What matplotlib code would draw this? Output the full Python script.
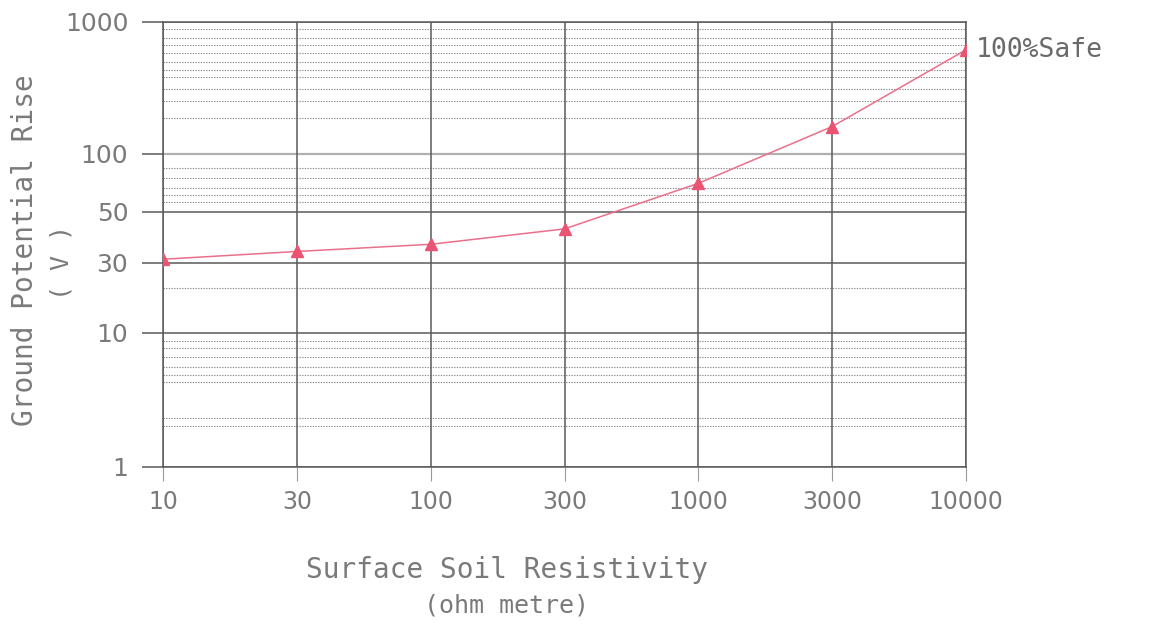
import numpy as np
import matplotlib.pyplot as plt

# Data
resistivity = ['10', '30', '100', '300', '1000', '3000', '10000']
gpr_volts = [31, 33.5, 36, 42, 70, 160, 610]
series_label = '100%Safe'

y_major = [1, 10, 30, 50, 100, 1000]
y_minor = [2, 2.3, 4.3, 4.8, 5.5, 6.6, 7.7, 8.6, 20,
           56, 61, 66, 75, 84,
           186, 250, 308, 380, 430, 493, 576, 664, 750, 877]

# the printed y axis is not a true log axis: piecewise mapping of log10(value)
knot_logs = np.log10([1, 10, 30, 50, 100, 1000])
knot_pos = np.array([0, 134, 204, 255, 313, 445], dtype=float)


def fwd(v):
    v = np.clip(np.asarray(v, dtype=float), 1e-3, None)
    return np.interp(np.log10(v), knot_logs, knot_pos,
                     left=-1e3, right=1e3)


def inv(p):
    return 10 ** np.interp(np.asarray(p, dtype=float), knot_pos, knot_logs)


txt = '#7a7a7a'
grid = '#5a5a5a'
pink = '#ec6f8a'
mono = 'DejaVu Sans Mono'

fig = plt.figure(figsize=(11.67, 6.27), dpi=100)
ax = fig.add_axes([163 / 1167, 1 - 466.5 / 627, (966 - 163) / 1167, 445 / 627])

x = np.arange(len(resistivity))
ax.set_yscale('function', functions=(fwd, inv))
ax.set_xlim(0, len(resistivity) - 1)
ax.set_ylim(1, 1000)

# grid
for v in y_minor:
    ax.axhline(v, color='#8a8a8a', lw=0.8, ls=(0, (1.2, 1.2)), zorder=1)
for v in y_major:
    if v == 100:
        ax.axhline(v, color='#b0b0b0', lw=1.6, zorder=1)
    else:
        ax.axhline(v, color=grid, lw=1.1, zorder=1)
for xi in x:
    ax.axvline(xi, color=grid, lw=1.1, zorder=1)

ax.plot(x, gpr_volts, color=pink, lw=1.1, zorder=3)
ax.plot(x, gpr_volts, ls='none', marker='^', ms=8, color='#ea5472', zorder=4)
ax.text(x[-1] + 0.07, gpr_volts[-1], series_label, color='#6a6a6a',
        fontsize=19, va='center', ha='left', family=mono)

ax.set_yticks(y_major)
ax.set_yticklabels([str(v) for v in y_major])
ax.set_yticks([], minor=True)
ax.set_xticks(x)
ax.set_xticklabels(resistivity)
ax.tick_params(axis='y', length=15, width=1.1, color=grid, pad=10,
               labelsize=18, labelcolor=txt)
ax.tick_params(axis='x', length=10, width=0.8, color='#9a9a9a', pad=7,
               labelsize=17, labelcolor=txt)
for s in ax.spines.values():
    s.set_color(grid)
    s.set_linewidth(1.1)

fig.text(25 / 1167, 1 - 250 / 627, 'Ground Potential Rise', rotation=90,
         ha='center', va='center', fontsize=20, color=txt, family=mono)
fig.text(62 / 1167, 1 - 262 / 627, '( V )', rotation=90,
         ha='center', va='center', fontsize=18, color=txt, family=mono)
fig.text(507 / 1167, 1 - 570 / 627, 'Surface Soil Resistivity',
         ha='center', va='center', fontsize=20, color=txt, family=mono)
fig.text(507 / 1167, 1 - 606 / 627, '(ohm metre)',
         ha='center', va='center', fontsize=18, color=txt, family=mono)

fig.savefig('out.png', dpi=100)
